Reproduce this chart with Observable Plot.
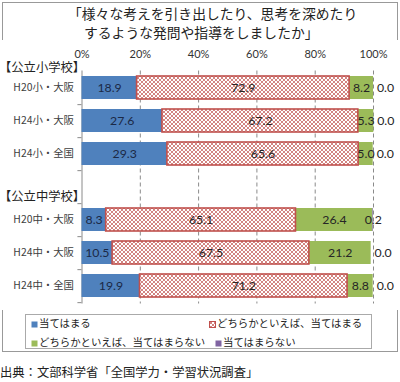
<!DOCTYPE html>
<html><head><meta charset="utf-8">
<script src="https://cdn.jsdelivr.net/npm/d3@7"></script>
<script src="https://cdn.jsdelivr.net/npm/@observablehq/plot@0.6"></script>
<style>
body{margin:0;background:#fff;width:400px;height:382px;position:relative;overflow:hidden;font-family:"Noto Sans CJK JP",sans-serif;color:#222}
.abs{position:absolute;white-space:nowrap}
.t{font-size:13.8px;line-height:19px;color:#222}
.hdr{font-size:12.3px;line-height:13px;left:-1px;color:#222}
.lg{font-size:10.4px;line-height:14px;color:#222}
.lg svg{vertical-align:-1px;margin-right:1px}
</style></head><body>
<div class="abs" style="left:2px;top:2px;width:394px;height:348px;border:1px solid #999"></div>
<div class="abs t" style="left:68px;top:4px">「様々な考えを引き出したり、思考を深めたり</div>
<div class="abs t" style="left:84px;top:23px">するような発問や指導をしましたか」</div>
<div id="chart" class="abs" style="left:0;top:40px"></div>
<div class="abs hdr" style="top:61px">【公立小学校】</div>
<div class="abs hdr" style="top:190px">【公立中学校】</div>
<div class="abs" style="left:25px;top:314px;width:345px;height:33px;border:1px solid #aaa;background:#fff"></div>
<div id="legend"></div>
<div class="abs" style="left:0;top:363px;font-size:12.3px;line-height:18px;color:#222">出典：文部科学省「全国学力・学習状況調査」</div>
<script>
const rows = ["H20小・大阪","H24小・大阪","H24小・全国","H20中・大阪","H24中・大阪","H24中・全国"];
const slots = ["H20小・大阪","H24小・大阪","H24小・全国"," ","H20中・大阪","H24中・大阪","H24中・全国"];
const series = ["当てはまる","どちらかといえば、当てはまる","どちらかといえば、当てはまらない","当てはまらない"];
const v1 = [18.9,27.6,29.3,8.3,10.5,19.9];
const v2 = [72.9,67.2,65.6,65.1,67.5,71.2];
const v3 = [8.2,5.3,5.0,26.4,21.2,8.8];
const v4 = [0.0,0.0,0.0,0.2,0.0,0.0];
const xTicks = [0,20,40,60,80,100];
const grid = [20,40,60,80,100];
const colors = ["#4F81BD","url(#pat)","#9BBB59","#8064A2"];

const values = [v1,v2,v3,v4];
const data = [];
series.forEach((s,si)=>rows.forEach((r,ri)=>data.push({row:r, series:s, si, value:values[si][ri]})));

const W=400,H=270,mT=30.5,mB=6.5,mL=81.5,mR=27;
const step=(H-mT-mB)/slots.length;
const stackOpts = {x:"value", y:"row", z:"series"};
const labelColor = d => d.si===0 ? "#1b2946" : "#262626";

const chart = Plot.plot({
  width:W, height:H, marginTop:mT, marginBottom:mB, marginLeft:mL, marginRight:mR,
  x:{domain:[0,100], axis:null, label:null},
  y:{domain:slots, paddingInner:0.29, paddingOuter:0.145, axis:null, label:null},
  color:{domain:series, range:colors},
  style:{fontFamily:"Lato, 'Noto Sans CJK JP', sans-serif", background:"#fff"},
  marks:[
    Plot.ruleX(grid, {stroke:"#8a8a8a", strokeDasharray:"4,3", strokeWidth:1}),
    Plot.ruleX([0], {stroke:"#8a8a8a", strokeWidth:1}),
    Plot.ruleY(slots, {y:d=>d, dy:step/2, x1:-1.4, x2:0, stroke:"#8a8a8a"}),
    Plot.axisX(xTicks, {anchor:"top", label:null, tickSize:0, tickPadding:13.5, tickFormat:d=>d+"%", fontSize:11, fill:"#333", fontFamily:"Lato, sans-serif"}),
    Plot.barX(data, Plot.stackX({...stackOpts, fill:"series"})),
    Plot.barX(data, Plot.filter(d=>d.si===1, Plot.stackX({...stackOpts, fill:"none", stroke:"#C0504D", strokeWidth:1.6}))),
    Plot.text(data, Plot.filter(d=>d.si<3 || d.value>0, Plot.stackX({...stackOpts, text:d=>d.value.toFixed(1), fill:labelColor, fontSize:12.3}))),
    Plot.text(data, Plot.filter(d=>d.si===3 && d.value===0, Plot.stackX({...stackOpts, text:d=>d.value.toFixed(1), fill:"#262626", fontSize:12.3, dx:12}))),
    Plot.text(rows, {x:()=>0, y:d=>d, text:d=>d, textAnchor:"end", dx:-8, fontSize:10.4, letterSpacing:"-0.3px", fill:"#404040", fontFamily:"'Noto Sans CJK JP', sans-serif"})
  ]
});
const svg = d3.select(chart);
const defs = svg.insert("defs", ":first-child");
const pat = defs.append("pattern").attr("id","pat").attr("patternUnits","userSpaceOnUse").attr("width",4).attr("height",4);
pat.append("rect").attr("width",4).attr("height",4).attr("fill","#fff");
[[0,0],[4,0],[0,4],[4,4],[2,2]].forEach(([cx,cy])=>pat.append("circle").attr("cx",cx).attr("cy",cy).attr("r",0.95).attr("fill","#C0504D"));
svg.selectAll("text").filter(function(){return this.textContent.includes("value");}).remove();
document.getElementById("chart").appendChild(chart);

// legend
const lgPos = [[31,316],[209,316],[31,335],[215,335]];
const lg = document.getElementById("legend");
series.forEach((s,i)=>{
  const d = document.createElement("div");
  d.className="abs lg";
  d.style.left=lgPos[i][0]+"px"; d.style.top=lgPos[i][1]+"px";
  const stroke = i===1 ? ' stroke="#C0504D" stroke-width="1"' : '';
  d.innerHTML = `<svg width="7" height="7"><rect x="0.5" y="0.5" width="6" height="6" fill="${colors[i]}"${stroke}/></svg>${s}`;
  lg.appendChild(d);
});
</script>
</body></html>
